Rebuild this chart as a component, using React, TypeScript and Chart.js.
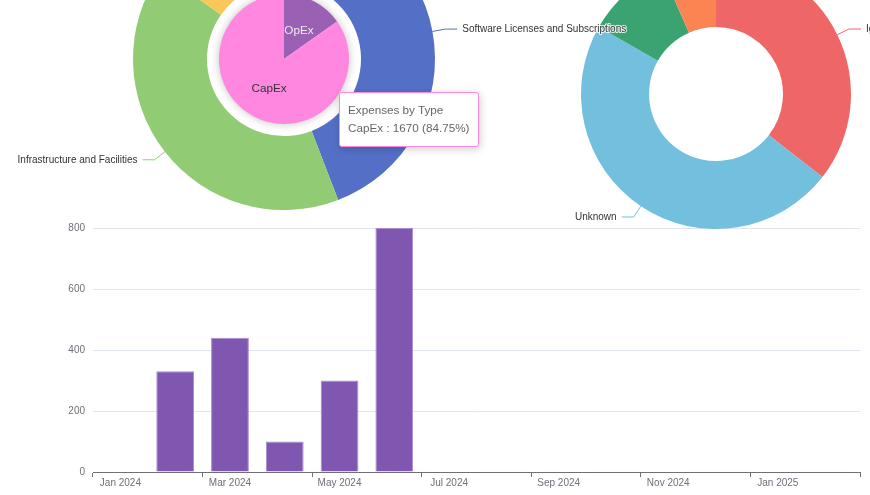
import React, { useEffect, useRef } from "react";
import { Chart, registerables } from "chart.js";

Chart.register(...registerables);

const FONT = '"Liberation Sans", Arial, Helvetica, sans-serif';

// ---- Bar chart data ----
const months = [
  "Jan 2024", "Feb 2024", "Mar 2024", "Apr 2024", "May 2024", "Jun 2024", "Jul 2024",
  "Aug 2024", "Sep 2024", "Oct 2024", "Nov 2024", "Dec 2024", "Jan 2025", "Feb 2025",
];
const monthlyExpenses = [0, 330, 440, 100, 300, 800, 0, 0, 0, 0, 0, 0, 0, 0];
const yMin = 0;
const yMax = 800;
const yStep = 200;

// ---- Nested pie: expenses by type (inner) and by category (outer) ----
const typeLabels = ["OpEx", "CapEx"];
const typeValues = [300, 1670];
const typeColors = ["#9a60b4", "#ff87e0"];
const typeTextColors = ["#eeeeee", "#333333"];

const categoryLabels = [
  "Software Licenses and Subscriptions",
  "Infrastructure and Facilities",
  "Personnel and Training",
];
const categoryValues = [870, 800, 300];
const categoryColors = ["#5470c6", "#91cc75", "#fac858"];

// ---- Doughnut: expenses by status ----
const statusLabels = ["Ignored", "Unknown", "Approved", "Pending"];
const statusValues = [700, 940, 200, 130];
const statusColors = ["#ee6666", "#73c0de", "#3ba272", "#fc8452"];

// ---- Tooltip text ----
const tooltipTitle = "Expenses by Type";
const tooltipName = "CapEx";
const tooltipValue = 1670;
const tooltipPercent = "84.75%";

function outsideLabels(id: string, dsIndex: number, names: string[], colors: string[]) {
  return {
    id,
    afterDatasetsDraw(chart: any) {
      const meta = chart.getDatasetMeta(dsIndex);
      const ctx = chart.ctx as CanvasRenderingContext2D;
      ctx.save();
      ctx.font = `10px ${FONT}`;
      ctx.textBaseline = "middle";
      meta.data.forEach((arc: any, i: number) => {
        const p = arc.getProps(["x", "y", "startAngle", "endAngle", "outerRadius"], true);
        const mid = (p.startAngle + p.endAngle) / 2;
        const c = Math.cos(mid);
        const s = Math.sin(mid);
        const x0 = p.x + c * p.outerRadius;
        const y0 = p.y + s * p.outerRadius;
        const x1 = p.x + c * (p.outerRadius + 13);
        const y1 = p.y + s * (p.outerRadius + 13);
        const dir = c >= 0 ? 1 : -1;
        const x2 = x1 + dir * 12;
        ctx.strokeStyle = colors[i];
        ctx.lineWidth = 1;
        ctx.beginPath();
        ctx.moveTo(x0, y0);
        ctx.lineTo(x1, y1);
        ctx.lineTo(x2, y1);
        ctx.stroke();
        ctx.textAlign = dir > 0 ? "left" : "right";
        ctx.lineWidth = 2;
        ctx.strokeStyle = "rgba(255,255,255,0.85)";
        ctx.lineJoin = "round";
        ctx.strokeText(names[i], x2 + dir * 5, y1);
        ctx.fillStyle = "#333";
        ctx.fillText(names[i], x2 + dir * 5, y1);
      });
      ctx.restore();
    },
  };
}

const innerLabels = {
  id: "innerLabels",
  afterDatasetsDraw(chart: any) {
    const meta = chart.getDatasetMeta(2);
    const ctx = chart.ctx as CanvasRenderingContext2D;
    ctx.save();
    ctx.font = `11.7px ${FONT}`;
    ctx.textAlign = "center";
    ctx.textBaseline = "middle";
    meta.data.forEach((arc: any, i: number) => {
      const p = arc.getProps(["x", "y", "startAngle", "endAngle", "outerRadius"], true);
      const mid = (p.startAngle + p.endAngle) / 2;
      const r = p.outerRadius / 2;
      ctx.fillStyle = typeTextColors[i];
      ctx.fillText(typeLabels[i], p.x + Math.cos(mid) * r, p.y + Math.sin(mid) * r + 1);
    });
    ctx.restore();
  },
};

const innerShadow = {
  id: "innerShadow",
  beforeDatasetsDraw(chart: any) {
    const meta = chart.getDatasetMeta(2);
    const arc = meta.data[0];
    if (!arc) return;
    const p = arc.getProps(["x", "y", "outerRadius"], true);
    const ctx = chart.ctx as CanvasRenderingContext2D;
    ctx.save();
    ctx.shadowColor = "rgba(0,0,0,0.3)";
    ctx.shadowBlur = 10;
    ctx.fillStyle = "#ffffff";
    ctx.beginPath();
    ctx.arc(p.x, p.y, p.outerRadius - 1, 0, Math.PI * 2);
    ctx.fill();
    ctx.restore();
  },
};

export default function App() {
  const barRef = useRef<HTMLCanvasElement | null>(null);
  const leftRef = useRef<HTMLCanvasElement | null>(null);
  const rightRef = useRef<HTMLCanvasElement | null>(null);

  useEffect(() => {
    Chart.defaults.font.family = FONT;

    const bar = new Chart(barRef.current as HTMLCanvasElement, {
      type: "bar",
      data: {
        labels: months,
        datasets: [
          {
            data: monthlyExpenses,
            backgroundColor: "#7f57b0",
            borderColor: "#a68bd0",
            borderWidth: 1,
            borderSkipped: "start",
            barPercentage: 0.69,
            categoryPercentage: 1,
          },
        ],
      },
      options: {
        responsive: false,
        maintainAspectRatio: false,
        animation: false,
        events: [],
        layout: { padding: { top: 228, right: 10, bottom: 0, left: 0 } },
        plugins: { legend: { display: false }, tooltip: { enabled: false } },
        scales: {
          x: {
            grid: {
              offset: true,
              drawOnChartArea: false,
              drawTicks: true,
              tickLength: 5,
              tickColor: (c: any) =>
                c.index === undefined || c.index % 2 === 0 ? "#6E7079" : "rgba(0,0,0,0)",
            },
            border: { color: "#6E7079", width: 1 },
            ticks: {
              autoSkip: false,
              maxRotation: 0,
              padding: 0,
              color: "#6E7079",
              font: { size: 10, family: FONT },
              callback: (_v: any, i: number) => (i % 2 === 0 ? months[i] : ""),
            },
            afterFit: (s: any) => {
              s.height = 23;
            },
          },
          y: {
            min: yMin,
            max: yMax,
            ticks: {
              stepSize: yStep,
              padding: 8,
              color: "#6E7079",
              font: { size: 10, family: FONT },
            },
            grid: { color: "#E0E6F1", drawTicks: false },
            border: { display: false },
            afterFit: (s: any) => {
              s.width = 93;
            },
          },
        },
      },
    } as any);

    const right = new Chart(rightRef.current as HTMLCanvasElement, {
      type: "doughnut",
      data: {
        labels: statusLabels,
        datasets: [
          { data: statusValues, backgroundColor: statusColors, borderWidth: 0 },
        ],
      },
      options: {
        responsive: false,
        maintainAspectRatio: false,
        animation: false,
        events: [],
        radius: 135,
        cutout: "49.6%",
        layout: { padding: { left: 112, right: 0, top: 68, bottom: 0 } },
        plugins: { legend: { display: false }, tooltip: { enabled: false } },
      },
      plugins: [outsideLabels("statusLabels", 0, statusLabels, statusColors)],
    } as any);

    const left = new Chart(leftRef.current as HTMLCanvasElement, {
      type: "doughnut",
      data: {
        labels: categoryLabels,
        datasets: [
          { data: categoryValues, backgroundColor: categoryColors, borderWidth: 0, weight: 74 },
          { data: [1], backgroundColor: ["rgba(0,0,0,0)"], borderWidth: 0, weight: 12 },
          { data: typeValues, backgroundColor: typeColors, borderWidth: 0, weight: 65 },
        ],
      },
      options: {
        responsive: false,
        maintainAspectRatio: false,
        animation: false,
        events: [],
        radius: 151,
        cutout: 0,
        layout: { padding: { left: 0, right: 132, top: 0, bottom: 2 } },
        plugins: { legend: { display: false }, tooltip: { enabled: false } },
      },
      plugins: [
        innerShadow,
        innerLabels,
        outsideLabels("categoryLabels", 0, categoryLabels, categoryColors),
      ],
    } as any);

    return () => {
      bar.destroy();
      right.destroy();
      left.destroy();
    };
  }, []);

  return (
    <div
      style={{
        position: "fixed",
        left: 0,
        top: 0,
        width: 870,
        height: 495,
        overflow: "hidden",
        background: "#ffffff",
      }}
    >
      <canvas
        ref={barRef}
        width={870}
        height={495}
        style={{ position: "absolute", left: 0, top: 0, width: 870, height: 495 }}
      />
      <canvas
        ref={rightRef}
        width={420}
        height={420}
        style={{ position: "absolute", left: 450, top: -150, width: 420, height: 420 }}
      />
      <canvas
        ref={leftRef}
        width={700}
        height={420}
        style={{ position: "absolute", left: 0, top: -150, width: 700, height: 420 }}
      />
      <div
        style={{
          position: "absolute",
          left: 339,
          top: 92,
          background: "#ffffff",
          border: `1px solid ${typeColors[1]}`,
          borderRadius: 3,
          boxShadow: "rgba(0,0,0,0.2) 1px 2px 8px",
          padding: "8px 8px",
          fontFamily: FONT,
          fontSize: 11.7,
          lineHeight: "18.3px",
          color: "#666",
          whiteSpace: "nowrap",
        }}
      >
        <div>{tooltipTitle}</div>
        <div>{`${tooltipName} : ${tooltipValue} (${tooltipPercent})`}</div>
      </div>
    </div>
  );
}
